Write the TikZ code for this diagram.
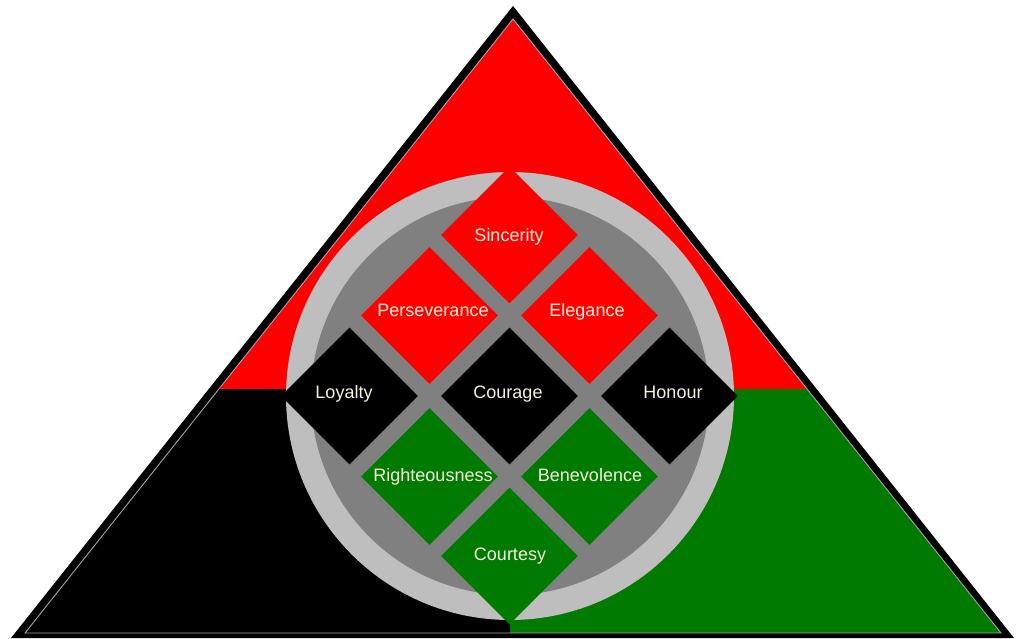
\documentclass[tikz,border=0pt]{standalone}
\usepackage{fontspec}
\setmainfont{Liberation Sans}
\usetikzlibrary{shapes.geometric}

\definecolor{vred}{RGB}{255,0,0}
\definecolor{vgreen}{RGB}{0,122,0}
\definecolor{vblack}{RGB}{0,0,0}
\definecolor{ringlight}{RGB}{190,190,190}
\definecolor{ringdark}{RGB}{128,128,128}
\definecolor{vtextcol}{RGB}{246,242,222}
\definecolor{edgegray}{RGB}{165,165,165}

\tikzset{
  virtue/.style={diamond, aspect=1, minimum width=137pt, minimum height=137pt,
                 inner sep=0pt, draw=none, fill=#1},
  vlabel/.style={anchor=base, text=vtextcol, inner sep=0pt,
                 font=\fontsize{18}{20}\selectfont},
  zone/.style={fill=#1, draw=none},
}

\begin{document}
\begin{tikzpicture}[x=1pt, y=-1pt]
  \useasboundingbox (0,0) rectangle (1020,638);
  \fill[white] (0,0) rectangle (1020,638);

  % outer black frame of the pyramid
  \fill[black] (513,6) -- (11,638) -- (1014,638) -- cycle;

  % coloured zones inside the frame
  \fill[zone=vred]   (513,19) -- (219,389) -- (807,389) -- cycle;
  \fill[zone=vblack] (219,389) -- (510,389) -- (510,633) -- (25,633) -- cycle;
  \fill[zone=vgreen] (510,389) -- (807,389) -- (1001,633) -- (510,633) -- cycle;

  % thin inner edge of the frame
  \draw[edgegray, line width=0.9pt] (513,19) -- (25,633) -- (1001,633) -- cycle;

  % the two-tone disc
  \fill[ringlight] (510,396) circle (224);
  \fill[ringdark]  (510,396) circle (199);

  % the nine virtues
  \node[virtue=vred]   (sincerity)     at (509.5,235) {};
  \node[virtue=vred]   (perseverance)  at (429.5,315.5) {};
  \node[virtue=vred]   (elegance)      at (589.5,315.5) {};
  \node[virtue=vblack] (loyalty)       at (349.5,396) {};
  \node[virtue=vblack] (courage)       at (509.5,396) {};
  \node[virtue=vblack] (honour)        at (669.5,396) {};
  \node[virtue=vgreen] (righteousness) at (429.5,476.5) {};
  \node[virtue=vgreen] (benevolence)   at (589.5,476.5) {};
  \node[virtue=vgreen] (courtesy)      at (509.5,556) {};

  \node[vlabel] (sincerity-t)     at (509,241) {Sincerity};
  \node[vlabel] (perseverance-t)  at (433,316) {Perseverance};
  \node[vlabel] (elegance-t)      at (587,316) {Elegance};
  \node[vlabel] (loyalty-t)       at (344,398) {Loyalty};
  \node[vlabel] (courage-t)       at (508,398) {Courage};
  \node[vlabel] (honour-t)        at (673,398) {Honour};
  \node[vlabel] (righteousness-t) at (433,481) {Righteousness};
  \node[vlabel] (benevolence-t)   at (590,481) {Benevolence};
  \node[vlabel] (courtesy-t)      at (510,560) {Courtesy};
\end{tikzpicture}
\end{document}
